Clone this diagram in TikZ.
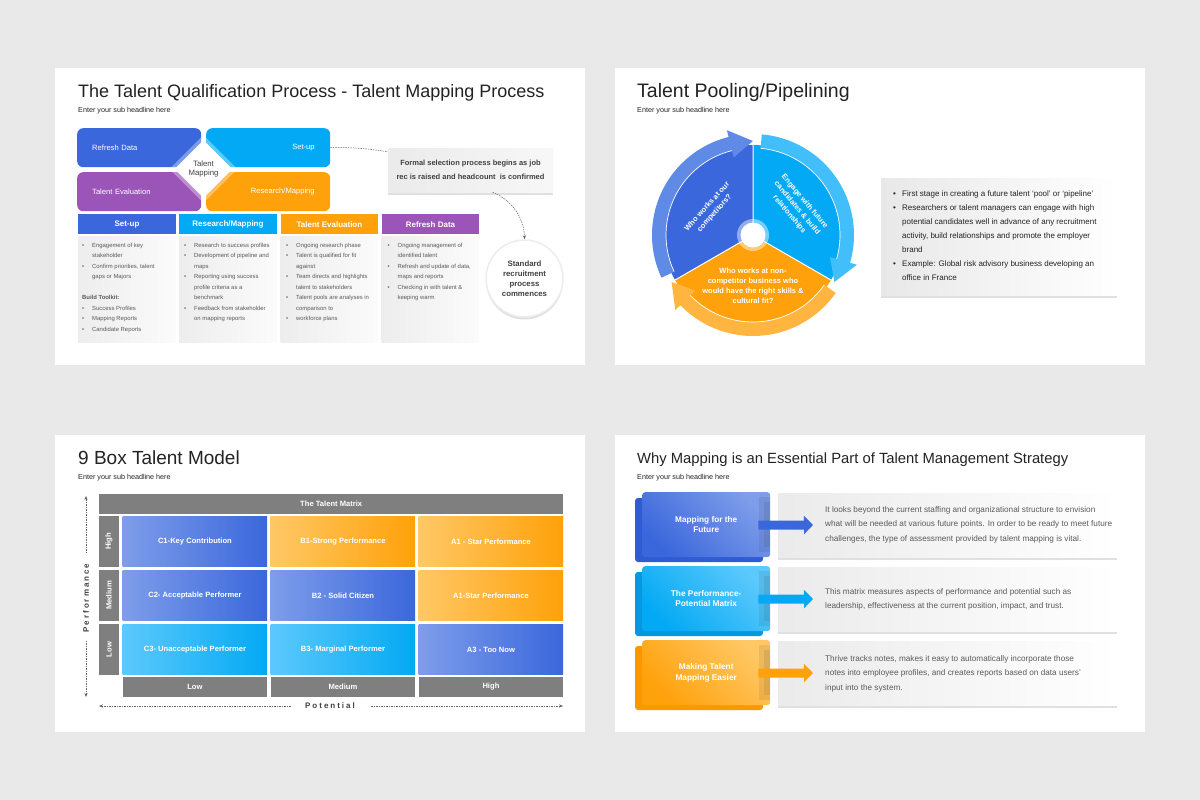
\documentclass[tikz,border=0pt]{standalone}
\usepackage{fontspec}
\setmainfont{Liberation Sans}
\usetikzlibrary{shapes.geometric,arrows.meta,shadows,calc}
\definecolor{bgc}{HTML}{EAE9EA}
\definecolor{cBlue}{HTML}{3A67DB}
\definecolor{cBlueL}{HTML}{7E9DEA}
\definecolor{cBlueD}{HTML}{2F5BD3}
\definecolor{cCyan}{HTML}{03A9F4}
\definecolor{cCyanL}{HTML}{5CC9FC}
\definecolor{cCyanD}{HTML}{0498E0}
\definecolor{cOrange}{HTML}{FFA10A}
\definecolor{cOrangeL}{HTML}{FFC865}
\definecolor{cOrangeD}{HTML}{FB9800}
\definecolor{cPurple}{HTML}{9B55B8}
\definecolor{cGray}{HTML}{7F7F7F}
\definecolor{tDark}{HTML}{222222}
\definecolor{tMid}{HTML}{404040}
\definecolor{tGray}{HTML}{5A5A5A}
\definecolor{rBlue}{HTML}{5F8AE6}
\definecolor{rCyan}{HTML}{42BEFA}
\definecolor{rOrange}{HTML}{FFB540}
\newcommand\fsz[2]{\fontsize{#1}{#2}\selectfont}
\def\lsp#1{\lspx#1\relax}
\def\lspx#1{\ifx#1\relax\else#1\kern2pt\expandafter\lspx\fi}
\newcommand\bl{\textbullet}
\newcommand\ringarrow[3]{%
  \fill[#1] (#2:101) arc[start angle=#2, end angle={#3+14}, radius=101]
    -- ({#3+14}:108) -- (#3:94) -- ({#3+14}:80) -- ({#3+14}:87)
    arc[start angle={#3+14}, end angle=#2, radius=87] -- cycle;
  \draw[white, line width=0.7pt] (#2:87) arc[start angle=#2, end angle={#3+14}, radius=87];}
\begin{document}
\begin{tikzpicture}[x=1pt,y=-1pt,
  title/.style={anchor=base west, inner sep=0pt, font=\fsz{18}{22}, text=tDark},
  subt/.style={anchor=base west, inner sep=0pt, font=\fsz{7.2}{9}, text=tDark},
  blk/.style={anchor=north west, rounded corners=6pt, minimum height=39pt, inner ysep=0pt, text=white, font=\fsz{7.6}{9}},
  hdr/.style={anchor=north west, minimum width=97.5pt, minimum height=20pt, inner sep=0pt, text=white, font=\bfseries\fsz{8}{10}},
  panel/.style={anchor=north west, minimum width=97.5pt, minimum height=106pt, inner sep=0pt, left color=black!7, right color=black!1.5},
  btxt/.style={anchor=north west, inner sep=0pt, font=\fsz{5.9}{10.5}, text=tGray},
  dcon/.style={draw=black!60, line width=0.5pt, dash pattern=on 1.5pt off 1pt},
  tip/.style={-{Stealth[length=4pt,width=3.2pt]}},
  cell/.style={anchor=north west, minimum width=144.5pt, minimum height=50.5pt, inner sep=0pt, text=white, font=\bfseries\fsz{7.6}{9}},
  gbar/.style={anchor=north west, fill=cGray, inner sep=0pt, text=white, font=\bfseries\fsz{7.6}{9}},
  softshadow/.style={drop shadow={shadow xshift=0pt, shadow yshift=-2.5pt, opacity=0.12, fill=black}},
  wtxt/.style={text=white, font=\bfseries\fsz{7.5}{10}, align=center, inner sep=0pt},
  front/.style={anchor=north west, minimum width=128pt, minimum height=65pt, inner sep=0pt, rounded corners=3pt, text=white, font=\bfseries\fsz{8.3}{10.5}, align=center},
  tbox/.style={anchor=north west, minimum width=339pt, minimum height=64pt, inner sep=0pt, left color=black!8, right color=white, softshadow},
  ttxt/.style={anchor=north west, inner sep=0pt, font=\fsz{8.2}{14.5}, text=tGray},
  fatarrow/.style={line width=9pt, -{Triangle[length=9pt,width=18pt]}},
]
\useasboundingbox (0,0) rectangle (1200,800);
\fill[bgc] (0,0) rectangle (1200,800);
\fill[white] (55,68) rectangle (585,365);
\fill[white] (615,68) rectangle (1145,365);
\fill[white] (55,435) rectangle (585,732);
\fill[white] (615,435) rectangle (1145,732);

% ---------------- Slide 1 ----------------
\node[title] (t1) at (78,97) {The Talent Qualification Process - Talent Mapping Process};
\node[subt] (s1) at (78,113) {Enter your sub headline here};
\node[blk, fill=cBlue, text width=94pt, align=left, inner xsep=15pt] (rd) at (77,128) {Refresh Data};
\node[blk, fill=cCyan, text width=93pt, align=right, inner xsep=15.5pt] (su) at (206,128) {Set-up};
\node[blk, fill=cPurple, text width=94pt, align=left, inner xsep=15pt] (te) at (77,172) {Talent Evaluation};
\node[blk, fill=cOrange, text width=93pt, align=right, inner xsep=15.5pt] (rm) at (206,172) {Research/Mapping};
\node[diamond, aspect=1, fill=white, fill opacity=0.35, minimum width=68pt, minimum height=68pt, inner sep=0pt] (tmh) at (203.5,169) {};
\node[diamond, aspect=1, fill=white, minimum width=58pt, minimum height=58pt, inner sep=0pt, font=\fsz{7.8}{9.5}, text=tMid, align=center] (tm) at (203.5,169) {Talent\\Mapping};

\node[minimum width=165pt, minimum height=44pt, inner sep=0pt, left color=black!8, right color=black!3, softshadow, align=center, font=\bfseries\fsz{7.5}{14.5}, text=tMid] (fsp) at (470.5,170) {Formal selection process begins as job\\rec is raised and headcount\ \ is confirmed};
\node[circle, minimum size=77pt, inner sep=0pt, fill=white, draw=black!7, line width=1.5pt, softshadow, align=center, font=\bfseries\fsz{7.8}{10}, text=tMid] (src) at (524.5,278.5) {Standard\\recruitment\\process\\commences};
\draw[dcon] (su.east) .. controls (352,147) and (370,149) .. ($(fsp.north west)+(0,4)$);
\draw[dcon, tip] ($(fsp.south)+(22,0)$) .. controls (512,200) and (524,218) .. (src.north);

\node[hdr, fill=cBlue] (h1) at (78,214) {Set-up};
\node[hdr, fill=cCyan] (h2) at (179,214) {Research/Mapping};
\node[hdr, fill=cOrange] (h3) at (280.5,214) {Talent Evaluation};
\node[hdr, fill=cPurple] (h4) at (381.5,214) {Refresh Data};
\node[panel] (p1) at (78,236) {};
\node[panel] (p2) at (179,236) {};
\node[panel] (p3) at (280.5,236) {};
\node[panel] (p4) at (381.5,236) {};
\node[btxt] (b1) at (82,239.6) {\begin{tabular}{@{}p{10pt}@{}l@{}}
\bl & Engagement of key\\
 & stakeholder\\
\bl & Confirm priorities, talent\\
 & gaps or Majors\\
 & \\
\multicolumn{2}{@{}l@{}}{\bfseries Build Toolkit:}\\
\bl & Success Profiles\\
\bl & Mapping Reports\\
\bl & Candidate Reports
\end{tabular}};
\node[btxt] (b2) at (184,239.6) {\begin{tabular}{@{}p{10pt}@{}l@{}}
\bl & Research to success profiles\\
\bl & Development of pipeline and\\
 & maps\\
\bl & Reporting using success\\
 & profile criteria as a\\
 & benchmark\\
\bl & Feedback from stakeholder\\
 & on mapping reports
\end{tabular}};
\node[btxt] (b3) at (286,239.6) {\begin{tabular}{@{}p{10pt}@{}l@{}}
\bl & Ongoing research phase\\
\bl & Talent is qualified for fit\\
 & against\\
\bl & Team directs and highlights\\
 & talent to stakeholders\\
\bl & Talent pools are analyses in\\
 & comparison to\\
\bl & workforce plans
\end{tabular}};
\node[btxt] (b4) at (387.5,239.6) {\begin{tabular}{@{}p{10pt}@{}l@{}}
\bl & Ongoing management of\\
 & identified talent\\
\bl & Refresh and update of data,\\
 & maps and reports\\
\bl & Checking in with talent \&\\
 & keeping warm
\end{tabular}};

% ---------------- Slide 2 ----------------
\node[title, font=\fsz{19.5}{22}] (t2) at (637,97) {Talent Pooling/Pipelining};
\node[subt] (s2) at (637,113) {Enter your sub headline here};
\begin{scope}[shift={(753,235)}, yscale=-1]
  \fill[cBlue] (0,0) -- (90:90) arc[start angle=90, end angle=210, radius=90] -- cycle;
  \fill[cCyan] (0,0) -- (-30:90) arc[start angle=-30, end angle=90, radius=90] -- cycle;
  \fill[cOrange] (0,0) -- (210:90) arc[start angle=210, end angle=330, radius=90] -- cycle;
  \draw[white, line width=1pt] (0,0) -- (90:90) (0,0) -- (210:90) (0,0) -- (-30:90);
  \ringarrow{rBlue}{205}{90}
  \ringarrow{rCyan}{85}{-30}
  \ringarrow{rOrange}{-35}{-150}
  \fill[white, opacity=0.45] (0,0) circle (16);
  \node[circle, fill=white, minimum size=25pt, inner sep=0pt] (hole) at (0,0) {};
  \node[wtxt, rotate=48] (q1) at (-42,25) {Who works at our\\competitors?};
  \node[wtxt, rotate=-50] (q2) at (44,27) {Engage with future\\candidates \& build\\relationships};
  \node[wtxt] (q3) at (0,-51) {Who works at non-\\competitor business who\\would have the right skills \&\\cultural fit?};
\end{scope}
\node[anchor=north west, minimum width=236pt, minimum height=117pt, inner sep=0pt, left color=black!9, right color=white, softshadow] (pbox) at (881,178) {};
\node[anchor=north west, inner sep=0pt, font=\fsz{8}{14}, text=tDark] (ptxt) at (893,186.2) {\begin{tabular}{@{}p{9pt}@{}l@{}}
\bl & First stage in creating a future talent `pool' or `pipeline'\\
\bl & Researchers or talent managers can engage with high\\
 & potential candidates well in advance of any recruitment\\
 & activity, build relationships and promote the employer\\
 & brand\\
\bl & Example: Global risk advisory business developing an\\
 & office in France
\end{tabular}};

% ---------------- Slide 3 ----------------
\node[title, font=\fsz{19}{22}] (t3) at (78,464) {9 Box Talent Model};
\node[subt] (s3) at (78,479) {Enter your sub headline here};
\node[gbar, minimum width=464pt, minimum height=20pt] (tmx) at (99,494) {The Talent Matrix};
\node[gbar, minimum width=19.5pt, minimum height=50.5pt] (rh) at (99,516) {\rotatebox{90}{High}};
\node[gbar, minimum width=19.5pt, minimum height=50.5pt] (rmd) at (99,570) {\rotatebox{90}{Medium}};
\node[gbar, minimum width=19.5pt, minimum height=50.5pt] (rl) at (99,624) {\rotatebox{90}{Low}};
\node[cell, left color=cBlueL, right color=cBlue] (c1) at (122.5,516) {C1-Key Contribution};
\node[cell, left color=cOrangeL, right color=cOrange] (b1c) at (270.5,516) {B1-Strong Performance};
\node[cell, left color=cOrangeL, right color=cOrange] (a1c) at (418.5,516) {A1 - Star Performance};
\node[cell, left color=cBlueL, right color=cBlue] (c2) at (122.5,570) {C2- Acceptable Performer};
\node[cell, left color=cBlueL, right color=cBlue] (b2c) at (270.5,570) {B2 - Solid Citizen};
\node[cell, left color=cOrangeL, right color=cOrange] (a2c) at (418.5,570) {A1-Star Performance};
\node[cell, left color=cCyanL, right color=cCyan] (c3) at (122.5,624) {C3- Unacceptable Performer};
\node[cell, left color=cCyanL, right color=cCyan] (b3c) at (270.5,624) {B3- Marginal Performer};
\node[cell, left color=cBlueL, right color=cBlue] (a3c) at (418.5,624) {A3 - Too Now};
\node[gbar, minimum width=144.5pt, minimum height=19.5pt] (cl) at (122.5,677) {Low};
\node[gbar, minimum width=144.5pt, minimum height=19.5pt] (cm) at (270.5,677) {Medium};
\node[gbar, minimum width=144.5pt, minimum height=19.5pt] (ch) at (418.5,677) {High};
\node[rotate=90, inner xsep=8pt, inner ysep=0pt, font=\bfseries\fsz{8}{10}, text=tMid] (perf) at (86,597) {\lsp{Performance}};
\coordinate (ptop) at (86,496);
\coordinate (pbot) at (86,697);
\draw[dcon, tip] (perf.east) -- (ptop);
\draw[dcon, tip] (perf.west) -- (pbot);
\node[inner xsep=14pt, inner ysep=0pt, font=\bfseries\fsz{8}{10}, text=tMid] (pot) at (331,706) {\lsp{Potential}};
\coordinate (pleft) at (99,706);
\coordinate (pright) at (563,706);
\draw[dcon, tip] (pot.west) -- (pleft);
\draw[dcon, tip] (pot.east) -- (pright);

% ---------------- Slide 4 ----------------
\node[title, font=\fsz{14.8}{18}] (t4) at (637,463) {Why Mapping is an Essential Part of Talent Management Strategy};
\node[subt] (s4) at (637,479) {Enter your sub headline here};
% row 1
\fill[cBlueD, rounded corners=3pt] (635,498) rectangle (763,562);
\node[tbox] (x1) at (778,493) {};
\node[front, top color=cBlueL, bottom color=cBlue, shading angle=-45] (m1) at (642,492) {Mapping for the\\Future};
\fill[black, opacity=0.07] (759,497) rectangle (770,552);
\fill[black, opacity=0.07] (764,502) rectangle (770,547);
\coordinate (e1) at (813,525);
\draw[fatarrow, cBlue] ($(m1.east)+(-12,0.5)$) -- (e1);
\node[ttxt] (x1t) at (825,501.9) {\begin{tabular}{@{}l@{}}
It looks beyond the current staffing and organizational structure to envision\\
what will be needed at various future points. In order to be ready to meet future\\
challenges, the type of assessment provided by talent mapping is vital.
\end{tabular}};
% row 2
\fill[cCyanD, rounded corners=3pt] (635,572) rectangle (763,636);
\node[tbox] (x2) at (778,567) {};
\node[front, top color=cCyanL, bottom color=cCyan, shading angle=-45] (m2) at (642,566) {The Performance-\\Potential Matrix};
\fill[black, opacity=0.07] (759,571) rectangle (770,626);
\fill[black, opacity=0.07] (764,576) rectangle (770,621);
\coordinate (e2) at (813,599);
\draw[fatarrow, cCyan] ($(m2.east)+(-12,0.5)$) -- (e2);
\node[ttxt] (x2t) at (825,583.9) {\begin{tabular}{@{}l@{}}
This matrix measures aspects of performance and potential such as\\
leadership, effectiveness at the current position, impact, and trust.
\end{tabular}};
% row 3
\fill[cOrangeD, rounded corners=3pt] (635,646) rectangle (763,710);
\node[tbox] (x3) at (778,641) {};
\node[front, top color=cOrangeL, bottom color=cOrange, shading angle=-45] (m3) at (642,640) {Making Talent\\Mapping Easier};
\fill[black, opacity=0.07] (759,645) rectangle (770,700);
\fill[black, opacity=0.07] (764,650) rectangle (770,695);
\coordinate (e3) at (813,673);
\draw[fatarrow, cOrange] ($(m3.east)+(-12,0.5)$) -- (e3);
\node[ttxt] (x3t) at (825,650.9) {\begin{tabular}{@{}l@{}}
Thrive tracks notes, makes it easy to automatically incorporate those\\
notes into employee profiles, and creates reports based on data users'\\
input into the system.
\end{tabular}};
\end{tikzpicture}
\end{document}
